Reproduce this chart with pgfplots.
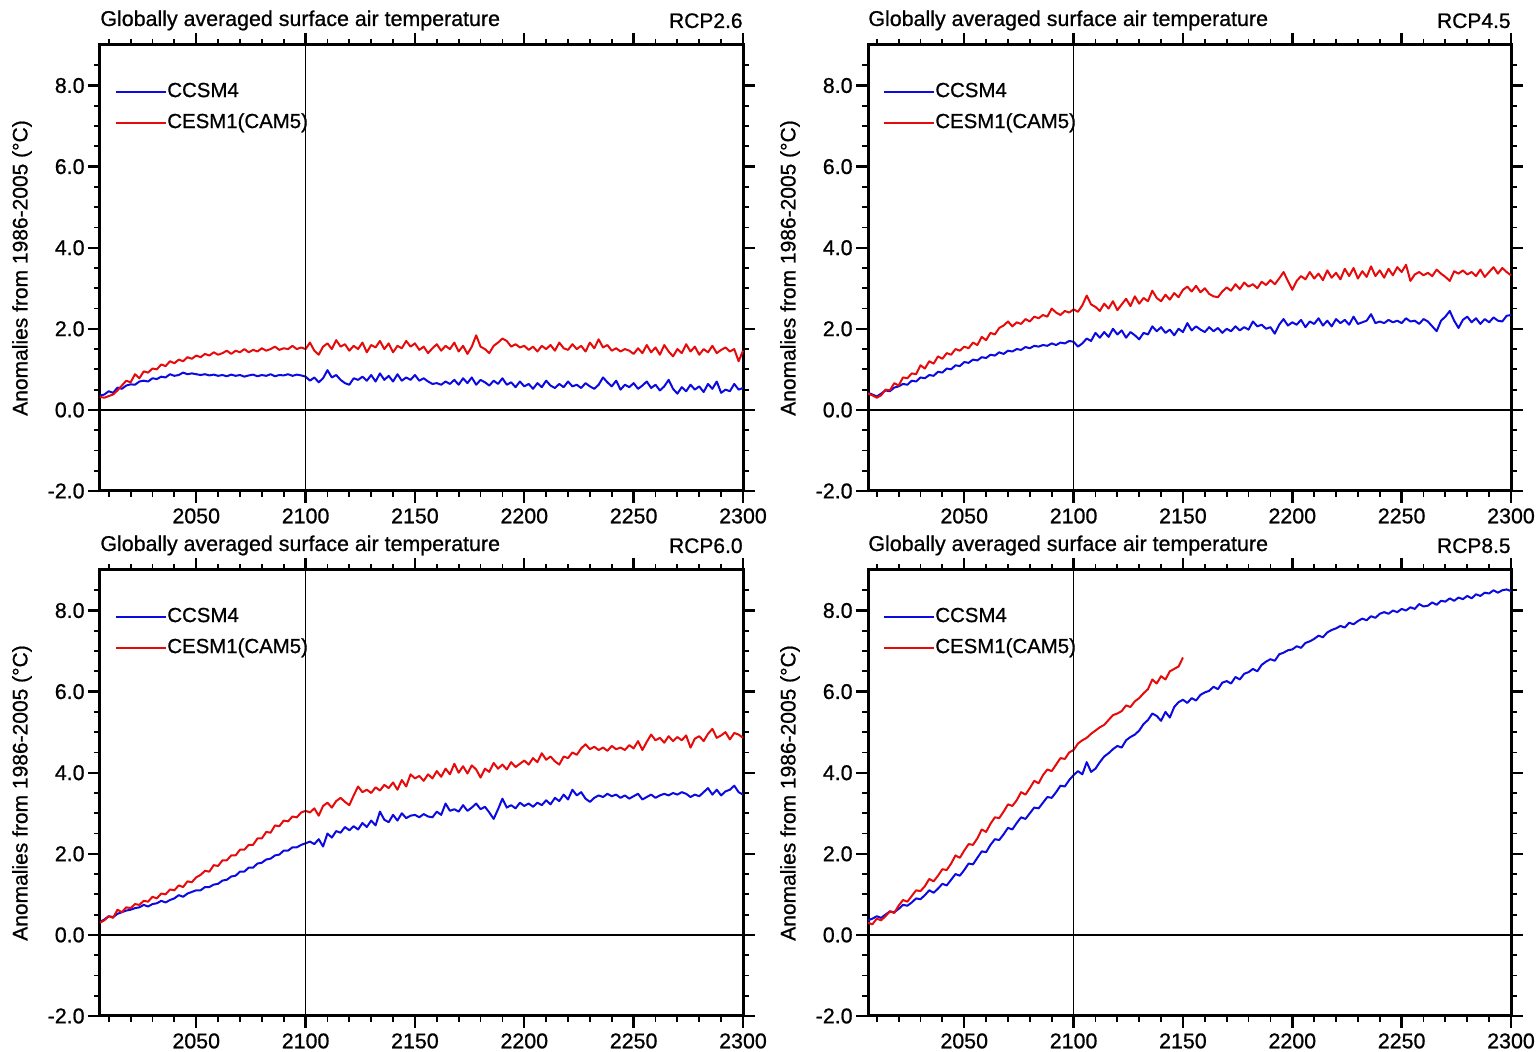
\documentclass[border=0pt]{standalone}
\usepackage{fontspec}
\setmainfont{Liberation Sans}[FakeBold=0.8]
\usepackage{pgfplots}
\usepackage{pgfplotstable}
\pgfplotsset{compat=1.18}
\definecolor{ncblue}{RGB}{10,10,225}
\definecolor{ncred}{RGB}{230,10,10}

\pgfplotstableread{
year ccsm cesm
2006 .35 .32
2008 .38 .30
2010 .46 .34
2012 .42 .38
2014 .55 .48
2016 .52 .60
2018 .60 .72
2020 .63 .68
2022 .62 .88
2024 .70 .78
2026 .72 .95
2028 .70 .92
2030 .78 1.02
2032 .76 1.00
2034 .82 1.12
2036 .80 1.08
2038 .88 1.20
2040 .84 1.15
2042 .86 1.24
2044 .92 1.20
2046 .88 1.30
2048 .90 1.26
2050 .88 1.34
2052 .86 1.30
2054 .88 1.38
2056 .85 1.34
2058 .87 1.42
2060 .84 1.36
2062 .86 1.40
2064 .83 1.46
2066 .87 1.38
2068 .84 1.46
2070 .86 1.42
2072 .82 1.50
2074 .85 1.42
2076 .87 1.48
2078 .83 1.44
2080 .86 1.52
2082 .84 1.46
2084 .88 1.50
2086 .83 1.56
2088 .86 1.48
2090 .85 1.52
2092 .88 1.50
2094 .84 1.58
2096 .87 1.50
2098 .85 1.54
2100 .82 1.50
2102 .72 1.66
2104 .80 1.46
2106 .68 1.36
2108 .78 1.56
2110 .98 1.64
2112 .80 1.50
2114 .86 1.72
2116 .74 1.56
2118 .66 1.62
2120 .62 1.46
2122 .78 1.58
2124 .74 1.50
2126 .82 1.66
2128 .72 1.42
2130 .86 1.60
2132 .70 1.54
2134 .90 1.70
2136 .74 1.50
2138 .84 1.64
2140 .70 1.42
2142 .88 1.58
2144 .72 1.52
2146 .80 1.70
2148 .74 1.56
2150 .86 1.64
2152 .72 1.48
2154 .78 1.56
2156 .70 1.40
2158 .64 1.52
2160 .66 1.62
2162 .62 1.46
2164 .70 1.58
2166 .64 1.50
2168 .74 1.66
2170 .62 1.44
2172 .78 1.58
2174 .66 1.38
2176 .80 1.56
2178 .62 1.84
2180 .74 1.56
2182 .68 1.50
2184 .60 1.40
2186 .72 1.58
2188 .64 1.66
2190 .78 1.76
2192 .62 1.70
2194 .68 1.56
2196 .56 1.62
2198 .70 1.54
2200 .58 1.58
2202 .64 1.48
2204 .52 1.56
2206 .66 1.44
2208 .56 1.58
2210 .72 1.50
2212 .60 1.60
2214 .54 1.46
2216 .64 1.66
2218 .56 1.52
2220 .70 1.48
2222 .58 1.62
2224 .62 1.50
2226 .54 1.58
2228 .66 1.44
2230 .58 1.66
2232 .52 1.52
2234 .62 1.74
2236 .80 1.54
2238 .68 1.60
2240 .58 1.46
2242 .72 1.52
2244 .50 1.44
2246 .62 1.50
2248 .56 1.46
2250 .66 1.38
2252 .52 1.52
2254 .60 1.40
2256 .70 1.60
2258 .54 1.42
2260 .62 1.54
2262 .48 1.36
2264 .58 1.60
2266 .74 1.44
2268 .52 1.32
2270 .40 1.50
2272 .56 1.40
2274 .46 1.62
2276 .62 1.44
2278 .50 1.56
2280 .58 1.36
2282 .44 1.50
2284 .64 1.42
2286 .52 1.58
2288 .70 1.40
2290 .42 1.48
2292 .50 1.54
2294 .46 1.44
2296 .64 1.50
2298 .50 1.20
2300 .54 1.46
}\rcpA

\pgfplotstableread{
year ccsm cesm
2006 .42 .40
2008 .38 .36
2010 .33 .30
2012 .40 .36
2014 .48 .50
2016 .46 .48
2018 .55 .66
2020 .58 .60
2022 .64 .80
2024 .62 .78
2026 .72 .90
2028 .70 .88
2030 .80 1.10
2032 .78 1.02
2034 .86 1.20
2036 .84 1.14
2038 .94 1.32
2040 .92 1.26
2042 1.02 1.40
2044 1.00 1.36
2046 1.10 1.50
2048 1.08 1.46
2050 1.18 1.56
2052 1.16 1.52
2054 1.24 1.66
2056 1.22 1.60
2058 1.30 1.80
2060 1.28 1.72
2062 1.36 1.90
2064 1.34 1.86
2066 1.42 2.02
2068 1.38 2.08
2070 1.46 2.18
2072 1.44 2.06
2074 1.50 2.16
2076 1.48 2.12
2078 1.55 2.24
2080 1.52 2.18
2082 1.58 2.30
2084 1.56 2.26
2086 1.60 2.34
2088 1.58 2.30
2090 1.64 2.50
2092 1.60 2.40
2094 1.66 2.34
2096 1.64 2.44
2098 1.70 2.40
2100 1.68 2.48
2102 1.56 2.42
2104 1.64 2.58
2106 1.76 2.82
2108 1.70 2.60
2110 1.90 2.54
2112 1.78 2.44
2114 1.92 2.62
2116 1.80 2.50
2118 2.00 2.68
2120 1.86 2.46
2122 1.96 2.60
2124 1.78 2.74
2126 1.92 2.56
2128 1.84 2.80
2130 1.74 2.62
2132 1.90 2.76
2134 1.86 2.68
2136 2.06 2.94
2138 1.94 2.76
2140 2.04 2.68
2142 1.90 2.84
2144 1.98 2.72
2146 1.84 2.88
2148 2.00 2.78
2150 1.92 2.96
2152 2.14 3.04
2154 1.96 2.92
2156 2.06 3.06
2158 1.98 2.90
2160 1.92 3.00
2162 2.04 2.86
2164 1.94 2.80
2166 2.02 2.78
2168 1.90 2.92
2170 2.00 3.02
2172 1.94 2.94
2174 2.06 3.10
2176 1.96 2.98
2178 2.04 3.14
2180 1.98 3.04
2182 2.18 3.10
2184 2.06 3.00
2186 2.10 3.16
2188 2.00 3.08
2190 2.04 3.20
2192 1.88 3.10
2194 2.10 3.24
2196 2.24 3.40
2198 2.08 3.18
2200 2.16 2.96
2202 2.10 3.18
2204 2.22 3.30
2206 2.04 3.22
2208 2.18 3.40
2210 2.12 3.24
2212 2.26 3.36
2214 2.08 3.20
2216 2.20 3.44
2218 2.06 3.26
2220 2.24 3.38
2222 2.14 3.22
2224 2.22 3.48
2226 2.10 3.30
2228 2.30 3.50
2230 2.12 3.24
2232 2.16 3.42
2234 2.20 3.28
2236 2.36 3.54
2238 2.14 3.30
2240 2.18 3.44
2242 2.14 3.26
2244 2.22 3.48
2246 2.16 3.32
2248 2.20 3.52
2250 2.14 3.40
2252 2.26 3.58
2254 2.18 3.18
2256 2.20 3.34
2258 2.12 3.40
2260 2.24 3.32
2262 2.18 3.38
2264 2.06 3.30
2266 1.94 3.46
2268 2.20 3.36
2270 2.30 3.28
2272 2.44 3.18
2274 2.20 3.42
2276 2.02 3.36
2278 2.22 3.44
2280 2.30 3.34
2282 2.16 3.40
2284 2.26 3.30
2286 2.12 3.46
2288 2.24 3.28
2290 2.16 3.40
2292 2.28 3.52
2294 2.20 3.36
2296 2.18 3.50
2298 2.32 3.40
2300 2.34 3.32
}\rcpB

\pgfplotstableread{
year ccsm cesm
2006 .32 .30
2008 .38 .36
2010 .46 .46
2012 .44 .42
2014 .52 .62
2016 .56 .56
2018 .60 .68
2020 .62 .66
2022 .66 .76
2024 .68 .74
2026 .74 .84
2028 .70 .82
2030 .76 .94
2032 .78 .90
2034 .84 1.02
2036 .80 1.00
2038 .86 1.12
2040 .90 1.10
2042 .98 1.22
2044 .94 1.18
2046 1.02 1.32
2048 1.06 1.30
2050 1.10 1.42
2052 1.10 1.48
2054 1.18 1.58
2056 1.18 1.56
2058 1.24 1.72
2060 1.26 1.70
2062 1.34 1.84
2064 1.36 1.84
2066 1.44 1.96
2068 1.46 1.96
2070 1.56 2.10
2072 1.56 2.10
2074 1.66 2.22
2076 1.66 2.22
2078 1.76 2.38
2080 1.78 2.38
2082 1.86 2.54
2084 1.88 2.52
2086 1.96 2.70
2088 1.98 2.68
2090 2.08 2.82
2092 2.08 2.80
2094 2.16 2.92
2096 2.16 2.90
2098 2.22 3.02
2100 2.26 3.06
2102 2.30 3.02
2104 2.24 3.12
2106 2.36 2.94
2108 2.18 3.18
2110 2.50 3.26
2112 2.40 3.14
2114 2.56 3.30
2116 2.52 3.38
2118 2.66 3.28
2120 2.58 3.20
2122 2.68 3.44
2124 2.60 3.66
2126 2.76 3.52
2128 2.66 3.58
2130 2.82 3.50
2132 2.70 3.64
2134 3.04 3.56
2136 2.84 3.70
2138 2.78 3.62
2140 2.96 3.76
2142 2.82 3.58
2144 3.00 3.82
2146 2.88 3.66
2148 2.94 3.96
2150 2.96 3.86
2152 2.90 3.92
2154 2.98 3.80
2156 2.92 3.96
2158 2.90 3.86
2160 3.04 4.04
2162 2.96 3.90
2164 3.24 4.10
2166 3.06 3.96
2168 3.10 4.22
2170 3.04 4.00
2172 3.20 4.16
2174 3.06 3.98
2176 3.14 4.18
2178 3.24 4.08
2180 3.10 3.88
2182 3.16 4.10
2184 3.02 4.02
2186 2.86 4.24
2188 3.10 4.10
2190 3.36 4.20
2192 3.14 4.08
2194 3.20 4.26
2196 3.12 4.14
2198 3.26 4.22
2200 3.18 4.30
2202 3.24 4.20
2204 3.16 4.36
2206 3.26 4.26
2208 3.20 4.48
2210 3.32 4.32
2212 3.22 4.40
2214 3.38 4.28
2216 3.30 4.20
2218 3.46 4.40
2220 3.34 4.36
2222 3.58 4.50
2224 3.44 4.44
2226 3.52 4.60
2228 3.36 4.70
2230 3.28 4.58
2232 3.38 4.64
2234 3.44 4.56
2236 3.40 4.62
2238 3.48 4.54
2240 3.42 4.66
2242 3.46 4.58
2244 3.38 4.62
2246 3.44 4.56
2248 3.36 4.68
2250 3.42 4.60
2252 3.48 4.78
2254 3.34 4.56
2256 3.40 4.76
2258 3.46 4.94
2260 3.38 4.80
2262 3.44 4.86
2264 3.48 4.74
2266 3.44 4.90
2268 3.50 4.78
2270 3.46 4.88
2272 3.52 4.80
2274 3.48 4.92
2276 3.40 4.62
2278 3.46 4.84
2280 3.42 4.90
2282 3.52 4.78
2284 3.62 4.96
2286 3.46 5.08
2288 3.58 4.86
2290 3.44 4.92
2292 3.54 5.00
2294 3.58 4.82
2296 3.68 4.98
2298 3.52 4.94
2300 3.46 4.86
}\rcpC

\pgfplotstableread{
year ccsm
2006 .36
2008 .40
2010 .46
2012 .42
2014 .50
2016 .58
2018 .56
2020 .64
2022 .74
2024 .72
2026 .80
2028 .90
2030 .88
2032 .98
2034 1.10
2036 1.04
2038 1.14
2040 1.26
2042 1.22
2044 1.36
2046 1.50
2048 1.46
2050 1.60
2052 1.76
2054 1.74
2056 1.90
2058 2.06
2060 2.04
2062 2.22
2064 2.36
2066 2.34
2068 2.48
2070 2.64
2072 2.60
2074 2.76
2076 2.90
2078 2.86
2080 3.00
2082 3.14
2084 3.12
2086 3.26
2088 3.40
2090 3.38
2092 3.52
2094 3.68
2096 3.66
2098 3.82
2100 3.94
2102 4.04
2104 3.96
2106 4.26
2108 4.02
2110 4.10
2112 4.26
2114 4.40
2116 4.48
2118 4.58
2120 4.66
2122 4.62
2124 4.80
2126 4.88
2128 4.94
2130 5.04
2132 5.20
2134 5.30
2136 5.46
2138 5.40
2140 5.28
2142 5.50
2144 5.36
2146 5.62
2148 5.74
2150 5.80
2152 5.72
2154 5.84
2156 5.78
2158 5.92
2160 5.98
2162 6.02
2164 6.12
2166 6.06
2168 6.22
2170 6.26
2172 6.20
2174 6.36
2176 6.30
2178 6.44
2180 6.48
2182 6.56
2184 6.50
2186 6.66
2188 6.74
2190 6.80
2192 6.76
2194 6.92
2196 6.96
2198 7.02
2200 7.04
2202 7.12
2204 7.08
2206 7.20
2208 7.24
2210 7.30
2212 7.38
2214 7.34
2216 7.46
2218 7.52
2220 7.56
2222 7.62
2224 7.58
2226 7.70
2228 7.66
2230 7.74
2232 7.80
2234 7.76
2236 7.86
2238 7.82
2240 7.92
2242 7.96
2244 7.92
2246 8.00
2248 7.96
2250 8.04
2252 8.00
2254 8.08
2256 8.04
2258 8.16
2260 8.10
2262 8.12
2264 8.20
2266 8.14
2268 8.24
2270 8.22
2272 8.30
2274 8.24
2276 8.32
2278 8.28
2280 8.36
2282 8.30
2284 8.40
2286 8.36
2288 8.44
2290 8.42
2292 8.50
2294 8.44
2296 8.50
2298 8.52
2300 8.48
}\rcpDb

\pgfplotstableread{
year cesm
2006 .30
2008 .26
2010 .40
2012 .36
2014 .46
2016 .58
2018 .54
2020 .72
2022 .86
2024 .82
2026 .96
2028 1.10
2030 1.08
2032 1.20
2034 1.38
2036 1.32
2038 1.46
2040 1.62
2042 1.60
2044 1.76
2046 1.96
2048 1.90
2050 2.08
2052 2.24
2054 2.22
2056 2.38
2058 2.60
2060 2.54
2062 2.74
2064 2.90
2066 2.88
2068 3.04
2070 3.22
2072 3.18
2074 3.32
2076 3.52
2078 3.46
2080 3.62
2082 3.80
2084 3.74
2086 3.94
2088 4.08
2090 4.04
2092 4.20
2094 4.36
2096 4.34
2098 4.50
2100 4.56
2102 4.72
2104 4.80
2106 4.86
2108 4.96
2110 5.04
2112 5.12
2114 5.18
2116 5.30
2118 5.42
2120 5.46
2122 5.52
2124 5.66
2126 5.62
2128 5.76
2130 5.84
2132 5.96
2134 6.06
2136 6.30
2138 6.20
2140 6.38
2142 6.30
2144 6.50
2146 6.56
2148 6.62
2150 6.84
}\rcpDr

\pgfplotsset{
  rcp/.style={
    scale only axis, width=321.5pt, height=223pt,
    xmin=2006, xmax=2300, ymin=-2, ymax=9,
    clip=false,
    xtick={2050,2100,...,2300},
    minor xtick={2010,2020,...,2290},
    ytick={-2,0,...,8},
    minor ytick={-1.5,-1,...,8.5},
    tick align=outside,
    major tick length=6pt, minor tick length=3pt,
    every major tick/.append style={line width=1.2pt, black},
    every minor tick/.append style={line width=0.9pt, black},
    axis line style={line width=1.5pt},
    tick label style={font=\fontsize{10.7}{12}\selectfont},
    /pgf/number format/assume math mode=true,
    xticklabel style={/pgf/number format/1000 sep={}, inner ysep=2.5pt},
    yticklabel style={/pgf/number format/fixed, /pgf/number format/fixed zerofill, /pgf/number format/precision=1, inner xsep=1.5pt},
    ylabel={Anomalies from 1986-2005 (°C)},
    every axis y label/.style={at={(axis description cs:-0.1213,0.5)}, rotate=90, anchor=center, font=\fontsize{10.5}{12}\selectfont},
    legend image code/.code={\draw[#1] (0pt,0pt) -- (25pt,0pt);},
    legend style={draw=none, fill=none, at={(axis description cs:0.0233,0.92)}, anchor=north west,
      inner sep=0pt, row sep=5pt, column sep=0pt,
      nodes={inner sep=0pt, text height=8pt, text depth=2.5pt, anchor=west},
      font=\fontsize{10.2}{12}\selectfont},
    legend cell align=left,
    every axis plot/.append style={line width=1pt, line join=round},
  }
}

\newcommand{\decor}[1]{%
  \draw[line width=0.7pt] (axis cs:2100,-2) -- (axis cs:2100,9);
  \draw[line width=1pt] (axis cs:2006,0) -- (axis cs:2300,0);
  \node[anchor=base west, inner xsep=0pt, font=\fontsize{10.7}{12}\selectfont] at ([yshift=9.5pt]axis description cs:0,1) {Globally averaged surface air temperature};
  \node[anchor=base east, inner xsep=0pt, font=\fontsize{10.5}{12}\selectfont] at ([yshift=8.5pt]axis description cs:1,1) {#1};
}

\begin{document}
\begin{tikzpicture}
\begin{axis}[rcp, at={(50pt,280.5pt)}, anchor=south west]
  \addplot[ncblue] table[x=year, y=ccsm] {\rcpA};
  \addlegendentry{CCSM4}
  \addplot[ncred] table[x=year, y=cesm] {\rcpA};
  \addlegendentry{CESM1(CAM5)}
  \decor{RCP2.6}
\end{axis}
\begin{axis}[rcp, at={(434pt,280.5pt)}, anchor=south west]
  \addplot[ncblue] table[x=year, y=ccsm] {\rcpB};
  \addlegendentry{CCSM4}
  \addplot[ncred] table[x=year, y=cesm] {\rcpB};
  \addlegendentry{CESM1(CAM5)}
  \decor{RCP4.5}
\end{axis}
\begin{axis}[rcp, at={(50pt,18pt)}, anchor=south west]
  \addplot[ncblue] table[x=year, y=ccsm] {\rcpC};
  \addlegendentry{CCSM4}
  \addplot[ncred] table[x=year, y=cesm] {\rcpC};
  \addlegendentry{CESM1(CAM5)}
  \decor{RCP6.0}
\end{axis}
\begin{axis}[rcp, at={(434pt,18pt)}, anchor=south west]
  \addplot[ncblue] table[x=year, y=ccsm] {\rcpDb};
  \addlegendentry{CCSM4}
  \addplot[ncred] table[x=year, y=cesm] {\rcpDr};
  \addlegendentry{CESM1(CAM5)}
  \decor{RCP8.5}
\end{axis}
\pgfresetboundingbox
\path[use as bounding box] (0,0) rectangle (769pt,526pt);
\end{tikzpicture}
\end{document}
